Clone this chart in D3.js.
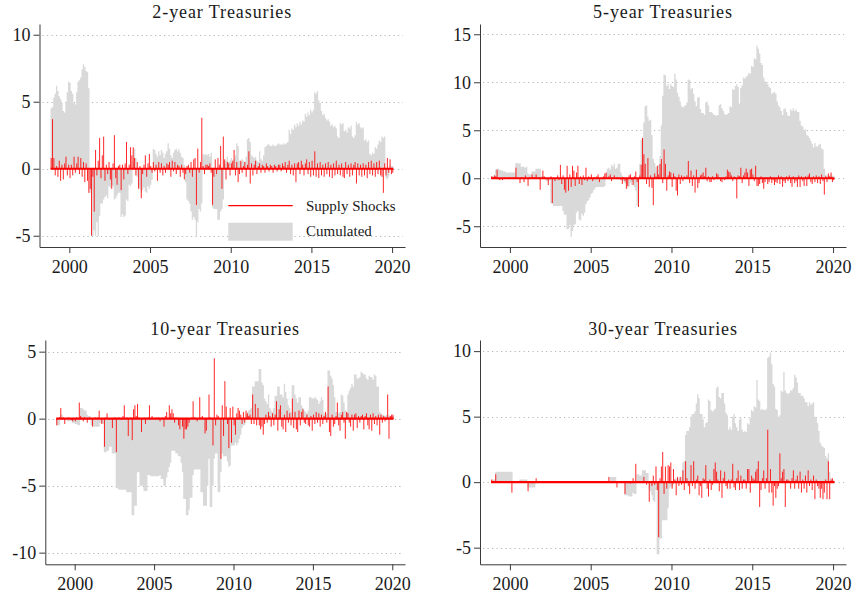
<!DOCTYPE html>
<html>
<head>
<meta charset="utf-8">
<script src="https://cdn.jsdelivr.net/npm/d3@7"></script>
<style>
  body { margin: 0; background: #fff; }
  svg text { font-family: "Liberation Serif", "Times New Roman", serif; fill: #1a1a1a; }
</style>
</head>
<body>
<svg id="chart" width="852" height="596"></svg>
<script>
// Monthly observations, first month Nov 1998, last month Jan 2020
const START_YEAR = 1998, START_MONTH = 11;

const titles = ["2-year Treasuries", "5-year Treasuries", "10-year Treasuries", "30-year Treasuries"];
const legendLabels = ["Supply Shocks", "Cumulated"];
const xTickYears = [2000, 2005, 2010, 2015, 2020];
const yTicks2 = [-5, 0, 5, 10];
const yTicks5 = [-5, 0, 5, 10, 15];
const yTicks10 = [-10, -5, 0, 5];
const yTicks30 = [-5, 0, 5, 10];

// ---- 2-year ----
const cum2 = [
  4.5, 4.6,
  5.3, 5.6, 6.2, 5.8, 5.4, 5.2, 4.9, 4.3, 4.2, 5.0, 5.7, 6.5,          // 1999
  6.4, 5.8, 5.6, 4.9, 4.8, 5.7, 6.5, 6.6, 6.8, 7.4, 7.8, 7.6,          // 2000
  7.3, 7.2, 6.0, -1.8, -1.6, -5.0, -4.6, -5.0, -4.0, -5.0, -3.5, -2.6, // 2001
  -2.6, -2.3, -2.1, -2.0, -2.2, -1.3, -1.4, -1.2, -1.3, -2.3, -2.2, -2.0, // 2002
  -1.8, -1.8, -3.6, -3.4, -3.6, -3.5, -2.3, -2.4, -1.2, -1.3, -1.1, 0.5, // 2003
  1.5, 0.8, -0.6, -1.3, -1.5, -1.8, -1.6, -1.4, -1.7, -1.8, -1.3, -1.5, // 2004
  -1.2, -0.8, 1.5, 1.4, 1.1, 0.9, 1.3, 1.0, 1.4, 1.2, 0.8, 1.1,        // 2005
  1.3, 1.9, 1.5, 1.0, 0.8, 1.2, 1.4, 1.5, 1.3, 1.5, 1.2, 0.9,          // 2006
  0.8, 0.3, -1.0, -2.3, -2.4, -2.6, -3.2, -3.8, -3.6, -3.8, -5.0, -4.0, // 2007
  -3.0, -3.2, -2.6, 1.1, 1.0, 1.1, 1.0, 1.1, 0.9, 1.2, -2.9, -3.0,     // 2008
  -3.0, -3.0, -3.8, -3.8, -3.2, -3.0, -2.3, 0.4, 0.6, 0.9, 0.5, 0.6,   // 2009
  0.8, 0.5, 0.7, 1.0, 1.9, 1.7, 0.6, 0.5, 0.7, 0.6, 0.5, 0.9,          // 2010
  2.2, 2.3, 2.0, 1.0, 0.9, 0.8, 0.9, 0.6, 0.5, 1.3, 0.7, 0.6,          // 2011
  1.0, 1.6, 1.7, 1.8, 1.8, 1.7, 1.7, 1.8, 1.7, 1.7, 1.8, 1.9,          // 2012
  1.8, 1.8, 1.8, 1.9, 1.8, 1.9, 2.0, 2.9, 2.6, 3.0, 2.9, 3.3,          // 2013
  3.1, 3.4, 3.2, 3.5, 3.3, 3.6, 3.5, 4.1, 3.9, 4.2, 4.0, 4.4,          // 2014
  4.2, 4.4, 5.7, 5.6, 5.8, 5.1, 4.9, 4.3, 4.0, 4.1, 3.8, 3.6,          // 2015
  3.7, 3.5, 3.2, 3.3, 3.1, 3.2, 3.0, 2.4, 2.3, 3.4, 3.3, 3.4,          // 2016
  2.8, 2.9, 2.7, 3.1, 3.0, 3.2, 2.4, 2.3, 2.5, 3.5, 3.3, 3.4,          // 2017
  3.1, 3.0, 3.1, 2.1, 2.2, 2.0, 2.1, 1.1, 1.0, 1.2, 1.1, 1.6,          // 2018
  1.5, 1.8, 2.1, 2.0, 2.4, 2.3, 2.4, -0.7, -0.8, -0.6, 0.3, 0.2,       // 2019
  0.2
];
const shock2 = [
  0.8, 3.7,
  0.8, -0.5, 0.2, -0.6, 0.6, -0.9, 0.3, -0.8, 0.4, 0.9, -0.5, 0.3,     // 1999
  -0.7, 0.3, -0.5, 0.9, -0.3, 0.4, 0.9, -0.4, 0.8, -0.6, 0.5, -1.0,    // 2000
  0.4, -0.9, -1.8, -1.5, -5.0, -0.6, -3.2, 1.4, -0.5, 0.6, 2.3, -0.7,  // 2001
  1.0, 2.4, -0.9, 0.3, -0.4, 0.5, -0.8, -1.5, 0.4, 2.5, -0.7, -1.2,    // 2002
  0.2, 0.3, -1.6, 0.3, -0.8, 0.4, 2.0, -0.4, 0.3, 1.6, 1.0, 1.6,       // 2003
  0.8, -0.5, 0.5, -1.5, 0.2, -2.2, -0.4, 0.3, 1.0, -0.6, 0.4, 1.1,     // 2004
  0.2, -0.3, 0.5, -0.2, 0.3, -0.9, 0.5, -0.3, 0.4, -0.5, 0.2, -0.3,    // 2005
  0.4, 0.3, 0.5, -0.6, 0.6, -0.2, 0.5, -0.4, 0.3, 0.2, -0.6, 0.3,      // 2006
  -0.3, -0.8, -0.4, 0.2, 0.3, -0.3, 0.5, -0.6, 0.7, 0.8, -2.7, 1.5,    // 2007
  -0.3, 0.5, 3.8, 0.2, -0.4, 0.3, 0.3, 0.2, 0.4, -0.3, -2.7, -0.6,     // 2008
  0.7, -0.4, 0.8, 0.3, 1.7, -1.5, 2.4, 0.7, -0.8, 0.5, 0.4, -0.5,      // 2009
  0.4, 0.6, 1.4, -0.5, 0.5, -1.0, -0.4, 0.6, -0.3, 0.2, 0.5, -0.6,     // 2010
  0.3, 1.3, -1.1, 0.4, -0.5, 0.3, 0.6, -0.4, 0.2, 0.4, -0.3, 0.3,      // 2011
  0.2, -0.3, 0.4, 0.2, -0.2, 0.3, 0.2, -0.3, 0.3, 0.2, -0.2, 0.3,      // 2012
  0.3, -0.2, 0.4, 0.2, 0.5, -0.3, 0.3, 0.6, -0.4, 0.3, -0.5, 0.4,      // 2013
  -1.0, 0.4, 0.5, -0.4, 0.6, 0.3, -0.5, 0.4, 0.7, -0.4, 0.5, -0.6,     // 2014
  0.6, -0.5, 1.3, -0.6, 0.4, -0.7, 0.5, -0.5, 0.3, -0.6, 0.4, -0.4,    // 2015
  0.5, -0.6, 0.3, -0.7, 0.4, -0.5, 0.6, -0.4, 0.3, -0.5, 0.4, -0.6,    // 2016
  -0.7, 0.5, -0.4, 0.3, -0.6, 0.4, -0.5, 0.3, 0.5, -1.1, 0.4, -0.5,    // 2017
  0.3, -0.6, 0.4, -0.5, 0.3, -0.7, 0.5, -0.4, 0.6, -0.5, 0.4, -0.6,    // 2018
  0.5, -0.4, 0.6, -0.5, -0.6, -1.8, 0.4, -0.5, 0.8, -0.3, 0.7, -0.4,   // 2019
  -0.3
];

// ---- 5-year ----
const cum5 = [
  0.2, 0.2,
  0.3, 0.9, 1.0, 1.0, 0.9, 0.8, 0.8, 0.7, 0.7, 0.6, 0.6, 0.6,          // 1999
  0.6, 0.6, 0.6, 0.6, 1.6, 1.6, 1.5, 1.6, 1.2, 1.2, 1.2, 1.1,          // 2000
  1.2, 0.5, 0.4, 0.4, 0.7, 0.7, 0.7, 1.0, 1.0, 1.0, 1.0, 0.2,          // 2001
  0.2, 0.1, -0.2, -0.3, -0.3, -0.2, -2.6, -2.6, -2.9, -2.9, -2.9, -2.9, // 2002
  -2.9, -2.9, -2.9, -3.4, -3.8, -3.8, -5.3, -5.3, -4.9, -6.1, -5.5, -4.9, // 2003
  -4.8, -3.6, -3.4, -4.3, -4.4, -3.7, -3.9, -3.6, -2.7, -2.4, -2.3, -2.0, // 2004
  -1.6, -1.5, -1.2, -1.0, -0.9, -0.9, -0.9, -0.9, -0.9, -0.9, -0.8, 0.5, // 2005
  1.0, 1.1, 0.9, 1.4, 1.2, 1.5, 1.0, 1.1, 1.5, 1.5, 0.6, 0.3,          // 2006
  -0.3, -0.5, -0.6, -1.0, -0.9, -0.5, -0.7, -0.4, -0.9, -1.3, -2.9, -2.5, // 2007
  1.5, 4.0, 4.2, 5.8, 7.5, 7.6, 6.4, 6.0, 6.1, 4.5, 2.0, 1.6,          // 2008
  1.2, 0.8, 1.4, 2.3, 5.5, 8.6, 10.8, 10.7, 9.6, 9.8, 9.3, 9.8,        // 2009
  9.6, 9.5, 10.9, 10.3, 8.9, 8.5, 8.0, 7.5, 7.4, 7.5, 7.6, 7.9,        // 2010
  10.3, 10.2, 9.3, 9.4, 8.8, 8.0, 7.5, 8.4, 8.5, 7.2, 6.8, 6.8,        // 2011
  6.6, 7.9, 8.0, 7.6, 6.9, 6.9, 6.8, 6.6, 6.6, 6.5, 6.6, 7.6,          // 2012
  7.7, 7.3, 7.0, 6.7, 6.6, 6.7, 6.8, 7.5, 7.4, 9.3, 9.2, 9.6,          // 2013
  9.8, 9.5, 7.8, 9.4, 9.7, 10.5, 10.4, 10.6, 10.7, 11.0, 10.9, 11.7,   // 2014
  11.6, 12.5, 12.4, 13.8, 13.5, 13.0, 12.0, 11.8, 10.5, 10.1, 10.0, 9.8, // 2015
  9.5, 9.4, 8.8, 8.9, 9.0, 8.8, 8.0, 7.6, 7.4, 7.0, 6.6, 7.2,          // 2016
  7.3, 6.9, 6.5, 6.5, 7.2, 7.0, 7.3, 7.0, 7.2, 6.9, 6.9, 6.0,          // 2017
  5.5, 5.4, 5.0, 5.1, 4.5, 4.4, 4.2, 3.9, 3.6, 3.2, 3.7, 3.3,          // 2018
  3.3, 3.5, 3.6, 3.1, 3.0, 1.0, 0.4, 0.3, 0.2, 0.3, 0.4, 0.3,          // 2019
  0.2
];
const shock5 = [
  0.2, 0.1,
  0.3, 0.2, 0.9, -0.1, -0.2, 0, -0.2, 0, 0.1, 0, 0, 0.1,               // 1999
  0, 0, 0.1, 0, 1.1, 0, 0, -0.5, 0.1, 0, -0.4, 0.3,                    // 2000
  0, -0.8, 0.1, 0, 0.4, 0, 0.1, 0.4, 0, 0.1, -1.2, 0,                  // 2001
  0.8, 0.2, 0, -0.1, -0.7, 0, 0.2, -2.6, 0, -0.3, 0, 0.3,              // 2002
  -0.2, 1.4, -0.6, 0.3, -1.2, -1.5, 1.3, -1.3, 0.4, -0.9, 1.3, 0.8,    // 2003
  -0.8, 0.6, 1.3, -0.6, 0.2, -0.7, 0.3, -0.2, 1.1, -0.3, 0.2, 0.1,     // 2004
  0.4, -0.3, 0.1, 0, 0.2, 0.4, -0.4, 0, 0, 0.2, 0.5, 0.6,              // 2005
  0, 0.2, 0.4, -0.3, 0, 0.3, 0, 0.1, -0.1, 0, -0.2, -0.6,              // 2006
  0.1, -0.3, -1.1, -0.8, 0.3, 0.4, -0.2, -0.7, 0.2, 0.7, -0.4, -3.0,   // 2007
  0.3, 1.4, 4.2, 2.5, 1.5, -0.6, 2.1, -0.9, 0.3, -1.0, -2.8, 0.5,      // 2008
  0.2, 1.3, 0.4, 1.5, 2.0, -0.5, 3.0, 1.5, -1.3, 0.3, 0.7, 0.6,        // 2009
  -0.9, 0.5, 0.2, -1.3, -1.8, 0.4, -0.6, 0.3, -0.3, 0.2, 0.1, 0.3,     // 2010
  1.8, -0.5, 0.8, -0.8, 0.3, -1.5, 0.9, -1.0, -0.5, 0.3, 0.4, 0.6,     // 2011
  0.2, 1.1, -0.3, 0.2, -0.4, -0.4, 0.2, -0.2, 0.1, 0.5, 0.4, 0.1,      // 2012
  -0.3, -0.4, 0.1, -0.2, 0.2, 0.9, 0.7, 0.6, 0.3, -0.3, 0.2, 0.1,      // 2013
  -2.1, 0.3, 0.2, 1.1, -0.5, 0.3, 0.6, 1.0, 0.6, -0.8, 0.9, 1.0,       // 2014
  0.4, -0.3, 1.3, -0.8, -0.8, -0.6, 0.2, -0.5, -1.1, -0.4, 0.1, -0.6,  // 2015
  -0.4, 0.2, -0.5, -0.2, -0.7, -0.4, -0.5, 0.3, -0.6, 0.2, -0.9, -0.3, // 2016
  -0.5, 0.2, -0.3, 0.3, -0.5, -0.9, 0.2, -0.5, -0.3, -0.9, 0.3, -0.9,  // 2017
  0.2, -0.3, -0.8, 0.2, -0.8, 0.3, 0.5, -0.4, -0.6, 0.2, -0.4, 0.3,    // 2018
  -0.5, 0.2, -0.6, 0.4, -0.3, -1.7, 0.2, -0.4, 0.5, 0.2, 0.6, -0.4,    // 2019
  -0.2
];

// ---- 10-year ----
const cum10 = [
  -0.5, -0.5,
  -0.5, 0.3, 0.3, 0.1, -0.1, -0.1, -0.2, -0.2, -0.2, -0.2, -0.3, -0.3, // 1999
  -0.4, -0.4, -0.5, -0.5, 0.8, 0.8, 0.7, 0.6, 0.6, 0.3, 0.2, 0.2,      // 2000
  -0.5, -0.5, -0.6, -0.6, -0.6, -0.6, -0.6, -0.3, -0.3, -0.4, -2.5, -2.5, // 2001
  -2.4, -2.4, -2.1, -2.1, -2.6, -2.6, -2.6, -5.2, -5.2, -5.3, -5.3, -5.3, // 2002
  -5.3, -5.3, -5.3, -5.5, -5.5, -5.5, -5.5, -7.2, -7.2, -6.5, -6.5, -4.0, // 2003
  -4.0, -5.0, -5.0, -5.0, -5.4, -5.4, -5.4, -4.2, -4.2, -4.3, -4.3, -4.3, // 2004
  -4.3, -4.3, -4.3, -4.3, -4.2, -4.5, -4.5, -5.0, -5.0, -4.4, -4.0, -3.6, // 2005
  -3.3, -2.4, -2.4, -2.4, -2.6, -2.6, -2.8, -2.8, -3.3, -4.0, -6.0, -6.0, // 2006
  -7.2, -7.2, -6.8, -5.9, -5.9, -4.2, -3.8, -3.8, -3.8, -3.8, -3.8, -5.5, // 2007
  -5.5, -6.5, -6.5, -6.5, -5.0, -3.0, -6.6, -6.6, -5.0, -3.0, -2.6, -2.6, // 2008
  -5.5, -5.5, -4.0, -2.6, -2.8, -2.8, -2.8, -3.2, -3.6, -3.5, -2.0, -2.0, // 2009
  -2.0, -1.8, -2.0, -1.8, -1.5, -1.2, -0.7, -0.5, -0.5, 0.3, 0.5, 0.6, // 2010
  0.7, 0.8, 2.4, 2.4, 2.8, 2.8, 2.8, 3.7, 3.7, 2.7, 2.5, 1.5,          // 2011
  1.3, 1.1, 1.8, 0.8, 0.6, 0.5, 0.8, 1.7, 1.7, 2.4, 2.4, 1.8,          // 2012
  1.8, 1.6, 2.6, 2.0, 1.5, 1.0, 0.8, 0.5, 2.5, 2.5, 1.8, 1.5,          // 2013
  1.2, 1.6, 1.6, 1.0, 0.8, 0.6, 0.5, 0.4, 0.6, 1.6, 1.6, 1.5,          // 2014
  1.5, 1.6, 1.5, 1.4, 1.1, 1.3, 1.6, 1.4, 0.4, 0.3, 0.4, 3.6,          // 2015
  3.6, 3.2, 3.0, 2.5, 1.6, 0.5, 0.5, 0.4, 0.5, 1.8, 1.7, 1.2,          // 2016
  0.6, 0.5, 1.8, 2.1, 2.3, 2.6, 2.4, 3.3, 3.3, 3.0, 3.0, 3.1,          // 2017
  3.5, 3.4, 3.3, 3.3, 3.0, 2.9, 3.2, 3.1, 3.1, 2.9, 3.3, 3.2,          // 2018
  2.4, 2.4, 0.5, 0.4, 0.3, 0.3, 0.2, 0.3, 0.2, 0.3, 0.2, 0.2,          // 2019
  0.2
];
const shock10 = [
  -0.5, 0,
  0.1, 0.8, 0, 0.1, -0.4, 0, 0, 0.1, 0, -0.1, -0.2, 0,                 // 1999
  -0.2, 0.1, 0, 1.2, 0.2, 0, -0.2, 0.1, 0, -0.3, 0, 0.1,               // 2000
  0, -0.6, 0, 0.1, 0, 0.1, 0.6, 0, -0.4, 0, -2.1, 0.1,                 // 2001
  0.4, 0, -0.1, 0, -0.7, 0, 0.1, -2.5, 0, 0.1, 0, -0.1,                // 2002
  0.2, 1.0, 0, 0.1, -1.3, 0, 0.1, -1.6, 0.7, 1.0, 0.2, 1.1,            // 2003
  0.1, 0, -1.0, 0, 0.1, -0.4, 0, 0.1, 1.0, 0, 0.2, 0,                  // 2004
  0, 0.1, 0, 0.1, -0.2, 0, 0.1, -0.6, 0.2, 0.5, 0, 1.0,                // 2005
  0.4, 0.7, 0.4, -0.3, 0.1, 0, -0.5, -0.8, 0, -0.6, -1.5, -0.8,        // 2006
  -0.8, -0.6, -0.3, 0, 0.1, 1.3, 0.1, 0, -0.2, 0, 1.6, 0.1,            // 2007
  0.2, 0, -1.1, -0.9, 0, 1.8, 0.1, 0, -2.0, 4.5, -0.5, 0.3,            // 2008
  0.2, 0, -3.0, 1.0, -1.3, 2.8, 0.9, -0.4, -2.2, 0.8, -1.8, 0.9,       // 2009
  -0.5, -1.2, 0.4, 0.8, 0.6, 0.3, -0.4, 0.5, -0.3, 0.6, 0.4, 0.2,      // 2010
  0.3, -0.4, 1.8, -0.4, 1.1, -0.5, 0.8, -0.5, -0.8, -0.6, -1.2, -0.4,  // 2011
  0.3, -0.3, 0.5, 0.2, -0.6, 0.4, -0.5, 0.3, 1.3, -0.9, 0.7, 1.0,      // 2012
  -0.6, -0.8, 0.3, -1.0, 0.6, -0.3, 0.4, -0.5, 1.5, -0.7, 0.5, -0.8,   // 2013
  -1.0, 0.6, -0.5, 0.5, 0.7, -0.3, -0.4, 0.3, -0.5, -0.6, 0.2, -0.9,   // 2014
  0.3, -0.4, 0.5, -0.3, 0.4, -0.6, 0.3, -0.4, 0.2, 0.5, -0.3, 2.4,     // 2015
  -1.0, -1.3, 0.3, -0.6, -0.4, 0.2, 1.2, -0.5, -0.9, 0.3, 0.5, -0.3,   // 2016
  -1.5, 0.5, 0.4, -0.3, -0.6, 0.3, -0.9, 0.3, 0.4, -0.7, 0.2, -0.3,    // 2017
  0.2, 0.3, -0.8, 0.2, 0.4, -0.5, -0.8, 0.3, -0.9, 0.4, -0.4, 0.2,     // 2018
  -0.5, 0.3, -1.2, 0.3, -0.3, 0.2, -0.2, 0.1, 1.8, -1.5, 0.2, 0.3,     // 2019
  0.3
];

// ---- 30-year ----
const cum30 = [
  0.1, 0.2,
  0.2, 0.8, 0.8, 0.8, 0.8, 0.8, 0.8, 0.8, 0.8, 0.8, 0.8, 0.8,          // 1999
  0.8, 0.8, 0, 0, 0, 0, 0, 0.2, 0.2, 0.2, 0.2, 0.2,                    // 2000
  0.2, -0.4, -0.4, -0.4, -0.4, -0.4, -0.4, 0, 0, 0, 0, 0,              // 2001
  0, 0, 0, 0, 0, 0, 0, 0, 0, 0, 0, 0,                                  // 2002
  0, 0, 0, 0, 0, 0, 0, 0, 0, 0, 0, 0,                                  // 2003
  0, 0, 0, 0, 0, 0, 0, 0, 0, 0, 0, 0,                                  // 2004
  0, 0, 0, 0, 0, 0, 0, 0, 0, 0, 0, 0,                                  // 2005
  0, 0, 0.4, 0.4, 0.4, 0.4, 0.4, 0, 0, 0, 0, 0,                        // 2006
  0, -1.0, -1.0, -1.0, -1.1, -1.1, -1.1, -0.8, -0.9, -0.9, 0.6, 0.6,   // 2007
  0.5, 0.5, 0.9, 0.9, 0.9, 0.7, 0.7, -0.5, -0.7, -1.0, -1.4, -1.5,     // 2008
  -0.6, -5.5, -5.5, -4.3, -4.3, -2.9, -2.9, -2.9, -2.9, -2.0, -0.5, -0.4, // 2009
  -0.3, -0.2, 0.2, 0.3, 0.2, 0.3, 0.2, 0.4, 1.5, 1.6, 3.6, 3.9,        // 2010
  3.9, 4.2, 5.0, 5.2, 5.2, 5.4, 6.0, 6.7, 6.4, 5.2, 5.2, 4.8,          // 2011
  4.2, 4.5, 4.6, 6.3, 6.2, 5.5, 5.4, 5.5, 5.6, 7.2, 7.3, 6.5,          // 2012
  6.4, 6.8, 6.8, 6.0, 5.3, 5.1, 4.0, 4.2, 4.0, 5.0, 5.2, 4.5,          // 2013
  4.2, 3.9, 4.8, 4.9, 4.0, 3.8, 3.9, 3.8, 4.5, 4.4, 4.9, 5.5,          // 2014
  5.4, 5.8, 5.7, 7.8, 6.3, 6.2, 5.5, 5.6, 5.5, 5.5, 5.6, 9.5,          // 2015
  9.6, 9.9, 9.0, 7.5, 7.3, 5.6, 5.5, 5.0, 5.1, 7.0, 6.9, 8.4,          // 2016
  7.0, 6.8, 6.7, 6.8, 7.0, 7.0, 7.2, 8.2, 8.0, 7.6, 6.8, 6.8,          // 2017
  6.6, 6.6, 6.4, 6.1, 6.1, 5.8, 6.1, 5.9, 6.0, 6.1, 5.0, 5.0,          // 2018
  4.5, 3.9, 3.0, 2.8, 2.7, 2.6, 2.0, 1.8, 2.2, 0.8, 0.3, 0.2,          // 2019
  0.1
];
const shock30 = [
  0.2, 0.1,
  0, 0.6, 0, 0, 0, 0, 0, 0, 0, 0, 0, 0,                                // 1999
  0, -0.8, 0, 0, 0, 0, 0, 0.1, 0, 0, 0, 0,                             // 2000
  0, -0.7, 0, 0, 0, 0, 0, 0.3, 0, 0, 0, 0,                             // 2001
  0, 0, 0, 0, 0, 0, 0, 0, 0, 0, 0, 0,                                  // 2002
  0, 0, 0, 0, 0, 0, 0, 0, 0, 0, 0, 0,                                  // 2003
  0, 0, 0, 0, 0, 0, 0, 0, 0, 0, 0, 0,                                  // 2004
  0, 0, 0, 0, 0, 0, 0, 0, 0, 0, 0, 0,                                  // 2005
  0, 0.4, 0, 0, 0, 0, 0, -0.4, 0, 0, 0, 0,                             // 2006
  0, -0.9, 0, 0, 0, -0.1, 0, 0.3, 0, 1.4, 0, 0,                        // 2007
  0, 0, 0, 0.4, 0, -0.2, 0, -1.5, 0, -0.3, 0.5, -0.2,                  // 2008
  1.2, -0.6, -4.2, 0.3, 1.2, 2.3, -0.9, 1.2, -0.5, 1.3, 1.2, 1.5,      // 2009
  -0.5, 1.0, 0.2, -1.0, 0.4, -0.3, 0.4, -0.2, 0.9, -0.6, 1.6, 0.3,     // 2010
  -0.3, -0.9, 1.3, -0.3, 1.6, -0.5, 0.2, 0.5, -1.0, -0.3, -1.2, 0.3,   // 2011
  0.2, 1.3, -0.5, -1.1, 0.2, -0.6, -0.2, 1.0, 1.5, 0.8, 0.2, -0.7,     // 2012
  0.9, -1.2, 0.3, 0.8, -0.3, -0.5, 0.2, -0.5, 0.2, 1.4, -0.4, -0.6,    // 2013
  0.3, 0.9, -0.6, 0.5, -0.5, 0.2, 0.2, -0.5, 1.0, 1.0, -0.8, 0.5,      // 2014
  0.3, 0.2, 0.8, 1.0, 1.6, -1.9, -0.6, 0.3, 0.9, -0.5, 0.3, 4.0,       // 2015
  -0.8, 1.0, -0.8, -1.8, -0.3, -1.2, -0.5, -0.3, 2.2, 0.3, 0.8, 1.0,   // 2016
  -1.9, 0.2, 0.2, 0.1, -0.5, 0.3, 0.9, -0.5, 0.2, 0.5, -0.5, 0.8,      // 2017
  -0.8, 0.2, -0.5, 0.5, -0.8, 0.9, -0.3, 0.2, -0.6, 0.5, -1.3, 0.2,    // 2018
  -0.3, -0.5, -1.2, -0.5, -1.3, -0.8, 0.2, -1.3, 1.6, -1.3, 0.2, 0.3,  // 2019
  0.1
];

// Panel layout: plot box in pixels and the y range each one shows
const xDomain = [1998.15, 2020.8];
const panels = [
  { title: titles[0], cum: cum2,  shock: shock2,  ticks: yTicks2,  yDomain: [-5.84, 10.8],  l: 39.5, r: 405, t: 24,  b: 247,   titleY: 17.5,  legend: true },
  { title: titles[1], cum: cum5,  shock: shock5,  ticks: yTicks5,  yDomain: [-7.16, 16.07], l: 480,  r: 846, t: 24,  b: 247,   titleY: 17.5 },
  { title: titles[2], cum: cum10, shock: shock10, ticks: yTicks10, yDomain: [-10.87, 5.87], l: 45.3, r: 405, t: 340, b: 564.3, titleY: 334.5 },
  { title: titles[3], cum: cum30, shock: shock30, ticks: yTicks30, yDomain: [-6.27, 10.85], l: 480,  r: 846, t: 340, b: 564.3, titleY: 334.5 }
];

const GRAY = "#d9d9d9", RED = "#ff0000", AXIS = "#3a3a3a";
const monthStart = i => START_YEAR + (START_MONTH - 1 + i) / 12;

const svg = d3.select("#chart");

panels.forEach(p => {
  const x = d3.scaleLinear().domain(xDomain).range([p.l, p.r]);
  const y = d3.scaleLinear().domain(p.yDomain).range([p.b, p.t]);
  const g = svg.append("g");
  const n = p.cum.length;

  // dotted horizontal grid at each labelled value
  g.append("g").selectAll("line").data(p.ticks).join("line")
    .attr("x1", p.l + 3).attr("x2", p.r - 2)
    .attr("y1", d => Math.round(y(d)) + 0.5).attr("y2", d => Math.round(y(d)) + 0.5)
    .attr("stroke", "#b4b4b4").attr("stroke-width", 1)
    .attr("stroke-dasharray", "1.2,3.3");

  // cumulated shocks as monthly steps
  const steps = p.cum.map((v, i) => [monthStart(i), v]);
  steps.push([monthStart(n), p.cum[n - 1]]);
  const area = d3.area().curve(d3.curveStepAfter)
    .x(d => x(d[0])).y0(y(0)).y1(d => y(d[1]));
  g.append("path").datum(steps).attr("d", area).attr("fill", GRAY);

  // individual supply shocks as spikes from zero
  const spikes = p.shock.map((v, i) => ({ t: monthStart(i) + 1 / 24, v })).filter(d => d.v !== 0);
  g.append("g").selectAll("line").data(spikes).join("line")
    .attr("x1", d => x(d.t)).attr("x2", d => x(d.t))
    .attr("y1", y(0)).attr("y2", d => y(d.v))
    .attr("stroke", RED).attr("stroke-width", 0.85);

  // zero line of the shock series
  g.append("line")
    .attr("x1", x(monthStart(0))).attr("x2", x(monthStart(n)))
    .attr("y1", y(0)).attr("y2", y(0))
    .attr("stroke", RED).attr("stroke-width", 2.2);

  // axes
  const yAxis = g.append("g").attr("transform", `translate(${p.l},0)`)
    .call(d3.axisLeft(y).tickValues(p.ticks).tickSize(6).tickSizeOuter(0).tickPadding(3).tickFormat(d => String(d)));
  const xAxis = g.append("g").attr("transform", `translate(0,${p.b})`)
    .call(d3.axisBottom(x).tickValues(xTickYears).tickSize(6).tickSizeOuter(0).tickPadding(7).tickFormat(d => String(d)));
  [yAxis, xAxis].forEach(a => {
    a.select(".domain").attr("stroke", AXIS);
    a.selectAll(".tick line").attr("stroke", AXIS);
    a.selectAll(".tick text").attr("font-size", 18).attr("fill", "#1a1a1a")
      .attr("font-family", '"Liberation Serif", "Times New Roman", serif');
  });

  // panel title
  g.append("text")
    .attr("x", (p.l + p.r) / 2).attr("y", p.titleY)
    .attr("text-anchor", "middle").attr("font-size", 18).attr("letter-spacing", 0.9)
    .text(p.title);

  if (p.legend) {
    const lg = g.append("g");
    lg.append("line").attr("x1", 228.3).attr("x2", 292.7).attr("y1", 205.7).attr("y2", 205.7)
      .attr("stroke", RED).attr("stroke-width", 1.2);
    lg.append("text").attr("x", 306).attr("y", 211).attr("font-size", 15).text(legendLabels[0]);
    lg.append("rect").attr("x", 228.3).attr("y", 222.7).attr("width", 64.4).attr("height", 18)
      .attr("fill", GRAY);
    lg.append("text").attr("x", 306).attr("y", 236).attr("font-size", 15).text(legendLabels[1]);
  }
});
</script>
</body>
</html>
